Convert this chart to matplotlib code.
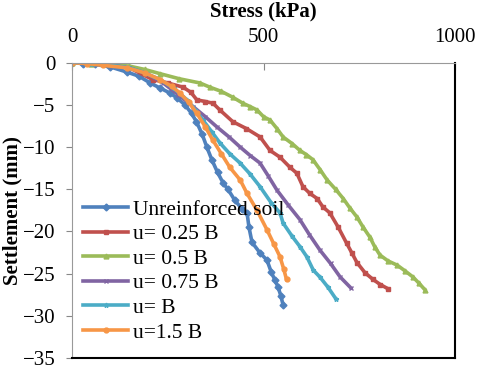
import matplotlib
matplotlib.use("Agg")
import matplotlib.pyplot as plt

plt.rcParams['font.family'] = ['Liberation Serif', 'DejaVu Serif']

labels = ["Unreinforced soil", "u= 0.25 B", "u= 0.5 B", "u= 0.75 B", "u= B", "u=1.5 B"]

unr_x = [0, 30, 60, 100, 143, 175, 204, 230, 256, 275, 295, 312, 325, 340, 352, 365, 380, 395, 407, 425, 445, 457, 462, 470, 490, 509, 520, 530, 538, 545, 551]
unr_y = [0, -0.1, -0.2, -0.5, -1.1, -1.6, -2.4, -3.0, -3.6, -4.2, -5.0, -6.0, -7.0, -8.5, -10.0, -11.5, -13.0, -14.3, -15.0, -16.3, -17.4, -17.8, -19.5, -21.3, -22.5, -23.4, -24.8, -25.8, -26.6, -27.6, -28.7]

u025_x = [0, 50, 100, 150, 211, 250, 290, 310, 326, 348, 368, 386, 420, 455, 491, 517, 543, 569, 587, 603, 621, 640, 655, 673, 695, 717, 730, 744, 765, 786, 805, 825]
u025_y = [0, -0.1, -0.3, -0.6, -2.0, -2.4, -2.9, -3.5, -4.4, -4.6, -4.8, -5.6, -7.0, -7.8, -8.8, -10.4, -11.2, -12.4, -13.1, -14.7, -15.5, -16.1, -17.1, -17.8, -19.5, -21.4, -22.5, -23.7, -24.9, -25.7, -26.3, -26.8]

u05_x = [0, 50, 100, 150, 190, 230, 280, 334, 360, 390, 420, 446, 465, 483, 500, 517, 535, 551, 575, 595, 612, 629, 648, 666, 688, 708, 725, 744, 760, 778, 790, 804, 825, 849, 870, 890, 905, 921]
u05_y = [0, -0.1, -0.2, -0.4, -0.8, -1.3, -1.9, -2.4, -2.9, -3.4, -4.1, -4.8, -5.2, -5.6, -6.4, -6.8, -7.8, -8.8, -9.6, -10.4, -10.9, -11.5, -12.7, -13.9, -15.0, -16.1, -17.2, -18.3, -19.5, -20.7, -21.8, -22.8, -23.5, -24.0, -24.7, -25.4, -26.1, -26.9]

u075_x = [0, 50, 100, 150, 195, 238, 278, 316, 348, 378, 410, 439, 465, 491, 512, 535, 565, 595, 620, 647, 675, 700, 728]
u075_y = [0, -0.1, -0.3, -0.6, -1.3, -2.4, -3.8, -5.2, -6.4, -7.6, -8.8, -10.0, -11.0, -11.9, -13.4, -15.1, -16.9, -18.6, -20.4, -22.2, -23.8, -25.4, -26.7]

u1_x = [0, 50, 100, 150, 190, 230, 265, 300, 322, 342, 365, 386, 412, 439, 465, 491, 520, 543, 551, 575, 595, 613, 630, 647, 668, 689]
u1_y = [0, -0.1, -0.3, -0.6, -1.2, -2.0, -3.0, -4.4, -5.6, -6.8, -8.2, -9.5, -10.8, -11.9, -13.2, -14.7, -16.6, -17.8, -19.0, -20.6, -21.8, -23.0, -24.6, -25.4, -26.6, -28.0]

u15_x = [0, 40, 80, 143, 190, 230, 260, 282, 305, 326, 348, 368, 390, 412, 439, 457, 483, 509, 527, 543, 553, 560]
u15_y = [0, -0.1, -0.3, -0.6, -1.2, -2.0, -2.8, -3.6, -4.7, -6.0, -7.6, -9.2, -10.8, -12.4, -13.9, -15.5, -17.5, -19.8, -21.5, -23.0, -24.5, -25.7]

series = [(unr_x, unr_y), (u025_x, u025_y), (u05_x, u05_y), (u075_x, u075_y), (u1_x, u1_y), (u15_x, u15_y)]
colors = ["#4F81BD", "#C0504D", "#9BBB59", "#8064A2", "#4BACC6", "#F79646"]
markers = ["D", "s", "^", "x", "*", "o"]

fig = plt.figure(figsize=(4.8, 3.69), dpi=100)
ax = fig.add_axes([0.15, 0.03, 0.798, 0.80])

for (xs, ys), c, m, lab in zip(series, colors, markers, labels):
    ax.plot(xs, ys, color=c, lw=2.6, marker=m, markersize=3.5, markeredgewidth=1.0, label=lab)

ax.set_xlim(0, 1000)
ax.set_ylim(-35, 0)
ax.set_xticks([0, 500, 1000])
ax.set_yticks(range(-35, 1, 5))
ax.xaxis.tick_top()
ax.xaxis.set_label_position('top')
ax.set_xlabel("Stress (kPa)", fontsize=15, fontweight='bold')
ax.set_ylabel("Settlement (mm)", fontsize=15, fontweight='bold')
ax.xaxis.set_label_coords(0.5, 1.155)
ax.yaxis.set_label_coords(-0.13, 0.5)
ax.tick_params(axis='x', direction='in', length=5, color='#888888', labelsize=15, pad=11)
ax.tick_params(axis='y', direction='out', length=4, color='#888888', labelsize=15, pad=8)

ax.spines['top'].set_color('#999999')
ax.spines['left'].set_color('#999999')
ax.spines['right'].set_color('black')
ax.spines['bottom'].set_color('black')
ax.spines['right'].set_linewidth(1.5)
ax.spines['bottom'].set_linewidth(1.5)

leg = ax.legend(loc='lower left', bbox_to_anchor=(0.012, 0.03), frameon=False, fontsize=15.5,
                handlelength=2.1, handletextpad=0.2, labelspacing=0.21, borderaxespad=0.1,
                borderpad=0.2)

fig.savefig("out.png", dpi=100)
